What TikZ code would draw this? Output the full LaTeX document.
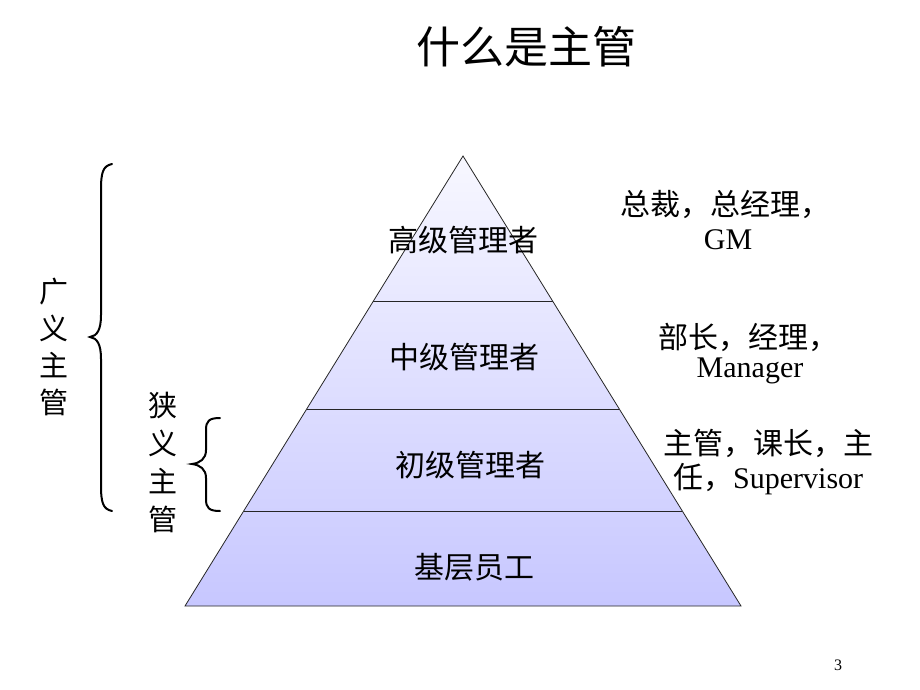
\documentclass[tikz,border=0pt]{standalone}
\usepackage{fontspec}
\setmainfont{Liberation Serif}
\newfontfamily\cjk{Noto Sans CJK SC}
\usetikzlibrary{calc}
\begin{document}
\begin{tikzpicture}[x=1pt,y=-1pt,
  lvl/.style={font=\cjk\fontsize{30}{34}\selectfont, inner sep=0pt},
  rtxt/.style={font=\fontsize{30}{34}\selectfont, inner sep=0pt},
  vtxt/.style={font=\cjk\fontsize{29}{37}\selectfont, align=center, inner sep=0pt},
  edge/.style={draw=black!85, line width=0.8pt},
  bracepath/.style={draw=black, line width=2pt, line cap=round}]
\useasboundingbox[fill=white] (0,0) rectangle (920,690);
% pyramid
\coordinate (apex) at (463,156);
\coordinate (bl) at (185,606);
\coordinate (br) at (741,606);
\shade[top color=blue!3!white, bottom color=blue!22!white] (apex) -- (bl) -- (br) -- cycle;
\coordinate (l1) at ($(apex)!0.3222!(bl)$);
\coordinate (r1) at ($(apex)!0.3222!(br)$);
\coordinate (l2) at ($(apex)!0.5622!(bl)$);
\coordinate (r2) at ($(apex)!0.5622!(br)$);
\coordinate (l3) at ($(apex)!0.7889!(bl)$);
\coordinate (r3) at ($(apex)!0.7889!(br)$);
\draw[edge] (l1) -- (r1);
\draw[edge] (l2) -- (r2);
\draw[edge] (l3) -- (r3);
\draw[edge] (apex) -- (bl) -- (br) -- cycle;
% title
\node[font=\cjk\fontsize{44}{48}\selectfont, inner sep=0pt] (title) at (526,47) {什么是主管};
% level labels
\node[lvl] (top) at (463,240) {高级管理者};
\node[lvl] (mid) at (464,357) {中级管理者};
\node[lvl] (low) at (470,465) {初级管理者};
\node[lvl] (base) at (474,567) {基层员工};
% right texts
\node[rtxt, anchor=west] (r1a) at (620,205) {\cjk 总裁，总经理，};
\node[rtxt] (r1b) at (728,240) {GM};
\node[rtxt, anchor=west] (r2a) at (658,337) {\cjk 部长，经理，};
\node[rtxt] (r2b) at (750,371) {Manager};
\node[rtxt, anchor=west] (r3a) at (663,443) {\cjk 主管，课长，主};
\node[rtxt, anchor=west] (r3b) at (673,479) {{\cjk 任，}Supervisor};
% left vertical texts
\node[vtxt] (wide) at (54,347) {广\\义\\主\\管};
\node[vtxt, font=\cjk\fontsize{29}{38}\selectfont] (narrow) at (163,462) {狭\\义\\主\\管};
% braces
\coordinate (b1t) at (112,164);
\coordinate (b1m) at (90,337);
\coordinate (b1b) at (112,511);
\draw[bracepath] (b1t) .. controls (103,166) and (101,172) .. (101,190)
  -- (101,315) .. controls (101,330) and (97,336) .. (b1m)
  .. controls (97,338) and (101,344) .. (101,359)
  -- (101,485) .. controls (101,503) and (103,509) .. (b1b);
\coordinate (b2t) at (220,418);
\coordinate (b2m) at (192,464);
\coordinate (b2b) at (220,511);
\draw[bracepath] (b2t) .. controls (209,418) and (206,421) .. (206,430)
  -- (206,450) .. controls (206,459) and (200,463) .. (b2m)
  .. controls (200,465) and (206,469) .. (206,478)
  -- (206,499) .. controls (206,508) and (209,511) .. (b2b);
% page number
\node[font=\fontsize{16}{18}\selectfont, inner sep=0pt] (pg) at (838,665) {3};
\end{tikzpicture}
\end{document}
